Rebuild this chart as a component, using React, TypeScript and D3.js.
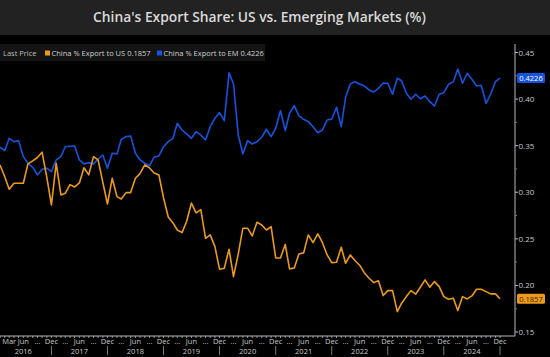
import React from "react";
import * as d3 from "d3";

const TITLE = "China's Export Share: US vs. Emerging Markets (%)";
const START_YEAR = 2016;
const START_MONTH = 0; // January 2016
const usShare = [
  0.3293, 0.3167, 0.3032, 0.3097, 0.3097, 0.3097, 0.3304, 0.3336, 0.3373, 0.343, 0.3159, 0.2864,
  0.3311, 0.2971, 0.2989, 0.3082, 0.3057, 0.31, 0.3263, 0.3186, 0.3382, 0.3347, 0.3105, 0.2874,
  0.315, 0.2953, 0.2928, 0.2996, 0.2996, 0.315, 0.32, 0.3293, 0.3261, 0.3207, 0.3186, 0.2941,
  0.2735, 0.2671, 0.2595, 0.2567, 0.2689, 0.2885, 0.2778, 0.2813, 0.2506, 0.2542, 0.2416, 0.2174,
  0.2185, 0.2388, 0.2094, 0.2338, 0.2614, 0.2614, 0.2531, 0.2678, 0.2649, 0.2595, 0.2631, 0.2295,
  0.2295, 0.244, 0.2177, 0.2188, 0.2338, 0.2349, 0.2542, 0.2459, 0.2553, 0.2461, 0.2327, 0.2245,
  0.2249, 0.241, 0.2238, 0.2327, 0.2268, 0.2217, 0.2137, 0.2077, 0.203, 0.2051, 0.1891, 0.1944,
  0.1944, 0.1719, 0.1809, 0.188, 0.1944, 0.1906, 0.1981, 0.2059, 0.1981, 0.2041, 0.1987, 0.188,
  0.1852, 0.1863, 0.173, 0.188, 0.1855, 0.1887, 0.1959, 0.1959, 0.1933, 0.1909, 0.1909, 0.1857,
];
const emShare = [
  0.3483, 0.3446, 0.3579, 0.3543, 0.3554, 0.3382, 0.3311, 0.3268, 0.3186, 0.3247, 0.3258, 0.3221,
  0.3347, 0.3382, 0.3489, 0.3494, 0.3497, 0.3347, 0.3304, 0.3318, 0.3304, 0.3354, 0.34, 0.3258,
  0.3418, 0.3411, 0.3569, 0.3597, 0.3604, 0.3418, 0.3347, 0.3311, 0.3282, 0.3376, 0.3389, 0.3489,
  0.3543, 0.3579, 0.374, 0.3668, 0.3626, 0.3579, 0.365, 0.3615, 0.3561, 0.3704, 0.3794, 0.3854,
  0.3768, 0.4283, 0.4162, 0.3615, 0.3411, 0.3554, 0.3518, 0.3543, 0.359, 0.3676, 0.3597, 0.3687,
  0.3876, 0.3661, 0.3848, 0.3929, 0.3819, 0.3783, 0.3758, 0.3704, 0.3639, 0.3668, 0.3776, 0.3783,
  0.3912, 0.3704, 0.4019, 0.4162, 0.4187, 0.4162, 0.4141, 0.4098, 0.4076, 0.4116, 0.4173, 0.417,
  0.4052, 0.4223, 0.4197, 0.4062, 0.3998, 0.4052, 0.4004, 0.4033, 0.3972, 0.3926, 0.4052, 0.4069,
  0.4159, 0.4187, 0.4323, 0.417, 0.4277, 0.4212, 0.4141, 0.4148, 0.3955, 0.4052, 0.4187, 0.4226,
];
const yTicks = [0.15, 0.2, 0.25, 0.3, 0.35, 0.4, 0.45];
const yMinorTicks = [0.175, 0.225, 0.275, 0.325, 0.375, 0.425];
const years = [2016, 2017, 2018, 2019, 2020, 2021, 2022, 2023, 2024];
const monthNames = ["Jan", "Feb", "Mar", "Apr", "May", "Jun", "Jul", "Aug", "Sep", "Oct", "Nov", "Dec"];
const usLabel = "China % Export to US";
const emLabel = "China % Export to EM";

const W = 550;
const H = 357;
const BLUE = "#1553e0";
const ORANGE = "#ec9a1c";
const AXIS = "#b8b8b8";
const FONT = "'Open Sans', 'DejaVu Sans', sans-serif";

export default function App() {
  const dates = usShare.map((_, i) => new Date(START_YEAR, START_MONTH + i, 1));
  const x = d3.scaleTime().domain([dates[0], dates[dates.length - 1]]).range([0, 500]);
  const y = d3.scaleLinear().domain([0.15, 0.45]).range([332, 52.5]);
  const axisY = 336;
  const axisX = 515;

  const line = d3
    .line<number>()
    .x((_, i) => x(dates[i]))
    .y((d) => y(d));

  const monthTicks = d3.timeMonth.range(new Date(2016, 0, 1), new Date(2025, 0, 1));
  const labelTicks = monthTicks.filter((d) => d.getMonth() % 3 === 2 && x(d) <= 505);

  const lastUs = usShare[usShare.length - 1];
  const lastEm = emShare[emShare.length - 1];

  return (
    <svg
      width={W}
      height={H}
      style={{ position: "absolute", left: 0, top: 0, background: "#000" }}
      fontFamily={FONT}
    >
      <rect x={0} y={0} width={W} height={35} fill="#222222" />
      <text x={259.5} y={22} textAnchor="middle" fill="#d9d9d9" fontSize={13.8} fontWeight={600}>
        {TITLE}
      </text>
      <rect x={0} y={35} width={W} height={H - 35} fill="#000" />

      {/* legend strip */}
      <rect x={0} y={44} width={265} height={17} fill="#141414" />
      <text x={3} y={56} fill="#bdbdbd" fontSize={7.5}>Last Price</text>
      <rect x={45} y={50.5} width={5} height={5} fill={ORANGE} />
      <text x={51.5} y={56} fill="#cfcfcf" fontSize={7.5}>
        {usLabel} {lastUs.toFixed(4)}
      </text>
      <rect x={157} y={50.5} width={5} height={5} fill={BLUE} />
      <text x={163.5} y={56} fill="#cfcfcf" fontSize={7.5}>
        {emLabel} {lastEm.toFixed(4)}
      </text>

      {/* lines */}
      <path d={line(emShare) || ""} fill="none" stroke={BLUE} strokeWidth={1.6} strokeLinejoin="round" />
      <path d={line(usShare) || ""} fill="none" stroke={ORANGE} strokeWidth={1.6} strokeLinejoin="round" />

      {/* y axis */}
      <line x1={axisX} x2={axisX} y1={44} y2={axisY} stroke={AXIS} strokeWidth={1} />
      {yTicks.map((t) => (
        <g key={t}>
          <line x1={axisX} x2={axisX + 3} y1={y(t)} y2={y(t)} stroke={AXIS} />
          <text x={axisX + 3.5} y={y(t) + 3} fill="#c8c8c8" fontSize={8}>
            {t.toFixed(2)}
          </text>
        </g>
      ))}
      {yMinorTicks.map((t) => (
        <line key={t} x1={axisX} x2={axisX + 2} y1={y(t)} y2={y(t)} stroke="#777" />
      ))}

      {/* last value badges */}
      <rect x={axisX + 2} y={y(lastEm) - 5} width={28} height={10} rx={1.5} fill={BLUE} />
      <text x={axisX + 16} y={y(lastEm) + 3} textAnchor="middle" fill="#ffffff" fontSize={7.5}>
        {lastEm.toFixed(4)}
      </text>
      <rect x={axisX + 2} y={y(lastUs) - 5} width={28} height={10} rx={1.5} fill={ORANGE} />
      <text x={axisX + 16} y={y(lastUs) + 3} textAnchor="middle" fill="#3a2400" fontSize={7.5}>
        {lastUs.toFixed(4)}
      </text>

      {/* x axis */}
      <line x1={0} x2={axisX} y1={axisY} y2={axisY} stroke={AXIS} strokeWidth={1} />
      {monthTicks.map((d) => (
        <line
          key={+d}
          x1={x(d)}
          x2={x(d)}
          y1={axisY}
          y2={axisY + 2}
          stroke={AXIS}
          strokeWidth={0.8}
        />
      ))}
      {labelTicks.map((d) => {
        const m = d.getMonth();
        const isFirstMarch = d.getFullYear() === 2016 && m === 2;
        const label = m === 5 || m === 11 || isFirstMarch ? monthNames[m] : "...";
        return (
          <text key={+d} x={x(d)} y={344} textAnchor="middle" fill="#c8c8c8" fontSize={7.5}>
            {label}
          </text>
        );
      })}
      {years.map((yr) => (
        <text key={yr} x={x(new Date(yr, 5, 1))} y={353.5} textAnchor="middle" fill="#c8c8c8" fontSize={7.5}>
          {yr}
        </text>
      ))}
      {years.map((yr) => (
        <line
          key={"sep" + yr}
          x1={x(new Date(yr, 11, 1))}
          x2={x(new Date(yr, 11, 1))}
          y1={346}
          y2={355}
          stroke="#9a9a9a"
          strokeWidth={0.8}
        />
      ))}
    </svg>
  );
}
